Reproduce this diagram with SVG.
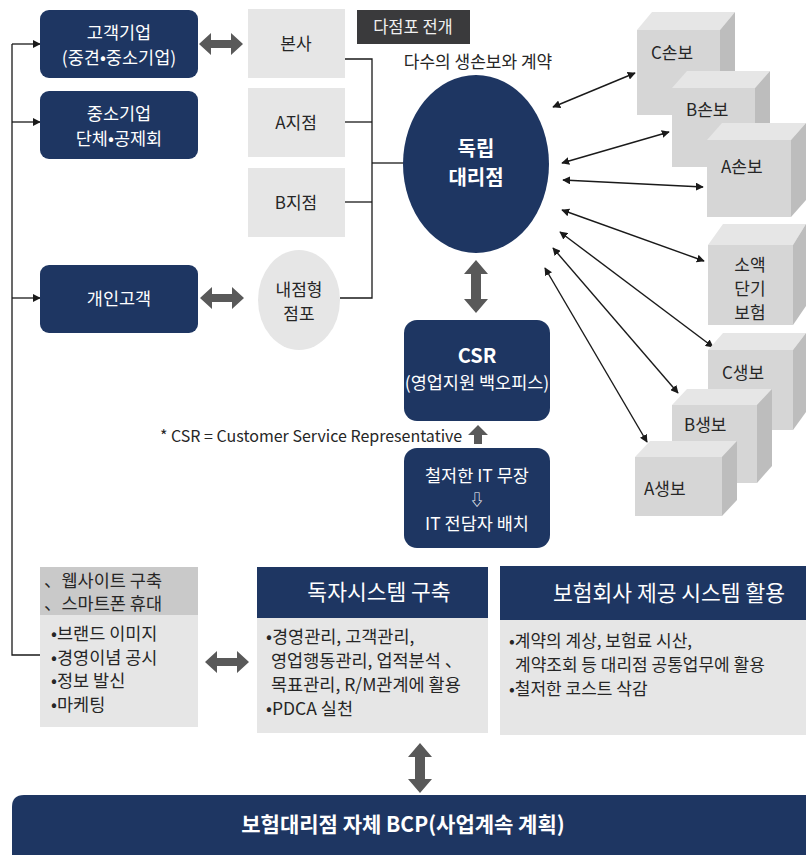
<svg xmlns="http://www.w3.org/2000/svg" width="806" height="855" viewBox="0 0 806 855">
<defs>
<style>
text{font-family:"Malgun Gothic","Noto Sans CJK KR","Noto Sans",sans-serif;}
.navy{fill:#1e3662;}
.lg{fill:#e6e6e6;}
.wt{fill:#ffffff;font-size:17.5px;text-anchor:middle;}
.bt{fill:#ffffff;font-size:20px;font-weight:bold;text-anchor:middle;}
.hd{fill:#ffffff;font-size:21.5px;text-anchor:middle;}
.dk{fill:#262626;font-size:17px;text-anchor:middle;}
.dl{fill:#262626;font-size:17px;}
.bl{fill:#262626;font-size:17.5px;}
.ln{stroke:#1a1a1a;stroke-width:1.3;fill:none;}
.ar{stroke:#1a1a1a;stroke-width:1.4;fill:none;marker-start:url(#ah);marker-end:url(#ah);}
.ar1{stroke:#1a1a1a;stroke-width:1.3;fill:none;marker-end:url(#ah);}
.ga{fill:#595959;}
.cf{fill:#d6d6d6;}
.ct{fill:#e6e6e6;}
.cs{fill:#bdbdbd;}
</style>
<marker id="ah" viewBox="0 0 10 10" refX="9" refY="5" markerWidth="8" markerHeight="8" markerUnits="userSpaceOnUse" orient="auto-start-reverse">
<path d="M0,0 L10,5 L0,10 z" fill="#1a1a1a"/>
</marker>
<path id="hdbl" d="M-22,0 L-10,-11 L-10,-4 L10,-4 L10,-11 L22,0 L10,11 L10,4 L-10,4 L-10,11 z"/>
</defs>
<rect width="806" height="855" fill="#ffffff"/>

<g id="connectors">
<polyline class="ln" points="40,655 12,655 12,44"/>
<line class="ar1" x1="12" y1="44" x2="40" y2="44"/>
<line class="ar1" x1="12" y1="122" x2="40" y2="122"/>
<line class="ar1" x1="12" y1="298" x2="40" y2="298"/>
<polyline class="ln" points="345,59 372,59 372,298 340,298"/>
<line class="ln" x1="345" y1="122" x2="372" y2="122"/>
<line class="ln" x1="345" y1="202" x2="372" y2="202"/>
<line class="ln" x1="372" y1="163" x2="404" y2="163"/>
<line class="ar" x1="553" y1="107" x2="635" y2="73"/>
<line class="ar" x1="562" y1="163" x2="669" y2="132"/>
<line class="ar" x1="563" y1="180" x2="703" y2="187"/>
<line class="ar" x1="562" y1="210" x2="704" y2="261"/>
<line class="ar" x1="560" y1="232" x2="713" y2="347"/>
<line class="ar" x1="553" y1="248" x2="678" y2="393"/>
<line class="ar" x1="545" y1="268" x2="647" y2="442"/>
<use href="#hdbl" class="ga" x="221" y="44"/>
<use href="#hdbl" class="ga" x="222" y="298"/>
<use href="#hdbl" class="ga" x="227" y="662"/>
<polygon class="ga" points="476,260 488,274 481,274 481,299 488,299 476,313 464,299 471,299 471,274 464,274"/>
<polygon class="ga" points="420,743 432,757 425,757 425,779 432,779 420,793 408,779 415,779 415,757 408,757"/>
<polygon class="ga" points="478,425 488,435 482,435 482,444 474,444 474,435 468,435"/>
</g>

<g id="n-customer-corp">
<rect class="navy" x="40" y="10" width="158" height="68" rx="9"/>
<text class="wt" x="119" y="39">고객기업</text>
<text class="wt" x="119" y="64">(중견•중소기업)</text>
</g>
<g id="n-sme-group">
<rect class="navy" x="40" y="91" width="158" height="68" rx="9"/>
<text class="wt" x="119" y="120">중소기업</text>
<text class="wt" x="119" y="145">단체•공제회</text>
</g>
<g id="n-personal">
<rect class="navy" x="40" y="265" width="158" height="68" rx="9"/>
<text class="wt" x="119" y="305">개인고객</text>
</g>

<g id="n-hq">
<rect class="lg" x="248" y="9" width="97" height="69"/>
<text class="dk" x="296" y="50">본사</text>
</g>
<g id="n-branch-a">
<rect class="lg" x="248" y="88" width="97" height="69"/>
<text class="dk" x="296" y="129">A지점</text>
</g>
<g id="n-branch-b">
<rect class="lg" x="248" y="168" width="97" height="69"/>
<text class="dk" x="296" y="209">B지점</text>
</g>
<g id="n-instore">
<ellipse class="lg" cx="299" cy="300" rx="41" ry="50"/>
<text class="dk" x="299" y="296">내점형</text>
<text class="dk" x="299" y="320">점포</text>
</g>

<g id="n-multistore-label">
<rect x="357" y="10" width="113" height="34" fill="#3a3a3c"/>
<text x="413" y="33" fill="#f0f0f0" font-size="16.5" text-anchor="middle">다점포 전개</text>
</g>
<text x="478" y="68" fill="#262626" font-size="17" text-anchor="middle">다수의 생손보와 계약</text>

<g id="n-agency">
<ellipse class="navy" cx="476" cy="164" rx="73" ry="89"/>
<text class="bt" x="476" y="156">독립</text>
<text class="bt" x="476" y="185">대리점</text>
</g>

<g id="n-csr">
<rect class="navy" x="404" y="320" width="146" height="101" rx="13"/>
<text class="bt" x="477" y="363">CSR</text>
<text class="wt" x="477" y="389">(영업지원 백오피스)</text>
</g>
<text x="160" y="442" fill="#262626" font-size="16">* CSR = Customer Service Representative</text>

<g id="n-it">
<rect class="navy" x="404" y="448" width="146" height="100" rx="13"/>
<text class="wt" x="477" y="482">철저한 IT 무장</text>
<text class="wt" x="477" y="505" style="font-size:15px">⇩</text>
<text class="wt" x="477" y="530">IT 전담자 배치</text>
</g>

<g id="n-c-nonlife">
<polygon class="ct" points="637,30 652,12 735,12 720,30"/>
<polygon class="cs" points="720,30 735,12 735,97 720,115"/>
<rect class="cf" x="637" y="30" width="83" height="85"/>
<text class="dl" x="651" y="59">C손보</text>
</g>
<g id="n-b-nonlife">
<polygon class="ct" points="672,88 687,71 770,71 755,88"/>
<polygon class="cs" points="755,88 770,71 770,150 755,167"/>
<rect class="cf" x="672" y="88" width="83" height="79"/>
<text class="dl" x="686" y="116">B손보</text>
</g>
<g id="n-a-nonlife">
<polygon class="ct" points="707,140 722,123 806,123 791,140"/>
<polygon class="cs" points="791,140 806,123 806,200 791,217"/>
<rect class="cf" x="707" y="140" width="84" height="77"/>
<text class="dl" x="721" y="173">A손보</text>
</g>
<g id="n-small-short">
<polygon class="ct" points="708,245 723,224 806,224 793,245"/>
<polygon class="cs" points="793,245 806,224 806,306 793,325"/>
<rect class="cf" x="708" y="245" width="85" height="80"/>
<text class="dk" x="750" y="271">소액</text>
<text class="dk" x="750" y="295">단기</text>
<text class="dk" x="750" y="319">보험</text>
</g>
<g id="n-c-life">
<polygon class="ct" points="708,350 723,333 806,333 793,350"/>
<polygon class="cs" points="793,350 806,333 806,412 793,430"/>
<rect class="cf" x="708" y="350" width="85" height="80"/>
<text class="dl" x="722" y="379">C생보</text>
</g>
<g id="n-b-life">
<polygon class="ct" points="672,405 687,389 772,389 757,405"/>
<polygon class="cs" points="757,405 772,389 772,466 757,483"/>
<rect class="cf" x="672" y="405" width="85" height="78"/>
<text class="dl" x="684" y="431">B생보</text>
</g>
<g id="n-a-life">
<polygon class="ct" points="635,457 650,441 737,441 722,457"/>
<polygon class="cs" points="722,457 737,441 737,500 722,516"/>
<rect class="cf" x="635" y="457" width="87" height="59"/>
<text class="dl" x="644" y="495">A생보</text>
</g>

<g id="n-web">
<rect x="40" y="567" width="158" height="48" fill="#c9c9c9"/>
<rect class="lg" x="40" y="615" width="158" height="112"/>
<text class="bl" x="44" y="587">、웹사이트 구축</text>
<text class="bl" x="44" y="610">、스마트폰 휴대</text>
<text class="bl" x="51" y="640">•브랜드 이미지</text>
<text class="bl" x="51" y="664">•경영이념 공시</text>
<text class="bl" x="51" y="687">•정보 발신</text>
<text class="bl" x="51" y="711">•마케팅</text>
</g>

<g id="n-own-system">
<rect class="navy" x="257" y="567" width="231" height="51"/>
<rect class="lg" x="257" y="618" width="231" height="115"/>
<text class="hd" x="379" y="600">독자시스템 구축</text>
<text class="bl" x="266" y="643">•경영관리, 고객관리,</text>
<text class="bl" x="271" y="667">영업행동관리, 업적분석 、</text>
<text class="bl" x="271" y="691">목표관리, R/M관계에 활용</text>
<text class="bl" x="266" y="715">•PDCA 실천</text>
</g>

<g id="n-insurer-system">
<rect class="navy" x="500" y="566" width="306" height="54"/>
<rect class="lg" x="500" y="620" width="306" height="115"/>
<text class="hd" x="669" y="601">보험회사 제공 시스템 활용</text>
<text class="dl" x="509" y="647">•계약의 계상, 보험료 시산,</text>
<text class="dl" x="515" y="671">계약조회 등 대리점 공통업무에 활용</text>
<text class="dl" x="509" y="695">•철저한 코스트 삭감</text>
</g>

<g id="n-bcp">
<path class="navy" d="M24,795 L806,795 L806,855 L12,855 L12,807 Q12,795 24,795 z"/>
<text class="bt" x="403" y="832" style="font-size:21px">보험대리점 자체 BCP(사업계속 계획)</text>
</g>
</svg>
